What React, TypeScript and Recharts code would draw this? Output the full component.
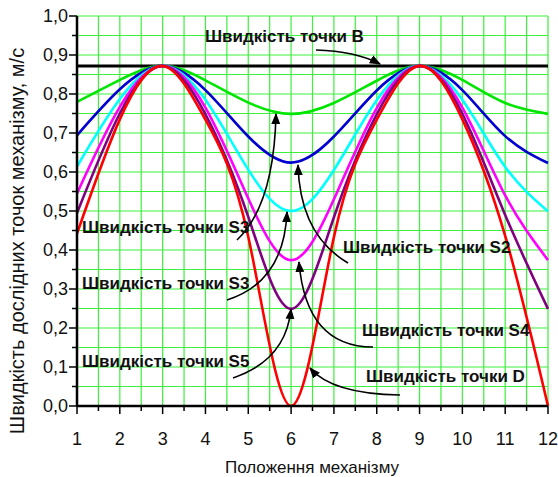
import { LineChart, Line, XAxis, YAxis, CartesianGrid } from "recharts";

// положення механізму 1..12
const positions = [1, 2, 3, 4, 5, 6, 7, 8, 9, 10, 11, 12];

// швидкості, м/с
const vB = [0.872, 0.872, 0.872, 0.872, 0.872, 0.872, 0.872, 0.872, 0.872, 0.872, 0.872, 0.872];
const vS3a = [0.78, 0.836, 0.872, 0.835, 0.778, 0.749, 0.777, 0.834, 0.872, 0.836, 0.777, 0.749];
const vS2 = [0.694, 0.812, 0.872, 0.81, 0.691, 0.624, 0.691, 0.809, 0.872, 0.81, 0.692, 0.623];
const vS3b = [0.614, 0.787, 0.872, 0.785, 0.606, 0.5, 0.605, 0.784, 0.872, 0.785, 0.613, 0.499];
const vS4 = [0.545, 0.767, 0.872, 0.765, 0.532, 0.374, 0.53, 0.764, 0.872, 0.765, 0.54, 0.374];
const vS5 = [0.495, 0.75, 0.872, 0.748, 0.485, 0.249, 0.484, 0.748, 0.872, 0.749, 0.49, 0.249];
const vD = [0.442, 0.735, 0.872, 0.734, 0.434, 0, 0.433, 0.734, 0.872, 0.735, 0.436, 0];

const xTicks = [1, 1.5, 2, 2.5, 3, 3.5, 4, 4.5, 5, 5.5, 6, 6.5, 7, 7.5, 8, 8.5, 9, 9.5, 10, 10.5, 11, 11.5, 12];
const yTicks = [0, 0.05, 0.1, 0.15, 0.2, 0.25, 0.3, 0.35, 0.4, 0.45, 0.5, 0.55, 0.6, 0.65, 0.7, 0.75, 0.8, 0.85, 0.9, 0.95, 1];

const data = positions.map((p, i) => ({
  pos: p,
  B: vB[i],
  S3a: vS3a[i],
  S2: vS2[i],
  S3b: vS3b[i],
  S4: vS4[i],
  S5: vS5[i],
  D: vD[i],
}));

const W = 558;
const H = 477;
const LEFT = 77;
const BOTTOM = 406;
const FONT = "'Liberation Sans', Arial, sans-serif";

const isMajor = (v: number) => Math.abs(v * 10 - Math.round(v * 10)) < 1e-6;

function YTick(props: any) {
  const { y, payload } = props;
  const v = payload.value;
  const major = isMajor(v);
  return (
    <g>
      <line x1={LEFT - (major ? 8 : 5)} x2={LEFT} y1={y} y2={y} stroke="#000" strokeWidth={1.5} />
      {major && (
        <text x={LEFT - 9} y={y} textAnchor="end" dominantBaseline="central" fontSize={18} fontFamily={FONT} fill="#111">
          {v.toFixed(1).replace(".", ",")}
        </text>
      )}
    </g>
  );
}

function XTick(props: any) {
  const { x, payload } = props;
  const v = payload.value;
  const major = Number.isInteger(v);
  return (
    <g>
      <line x1={x} x2={x} y1={BOTTOM} y2={BOTTOM + (major ? 8 : 5)} stroke="#000" strokeWidth={1.5} />
      {major && (
        <text x={x} y={BOTTOM + 39} textAnchor="middle" fontSize={18} fontFamily={FONT} fill="#111">
          {v}
        </text>
      )}
    </g>
  );
}

const labelStyle = { fontSize: 17, fontWeight: 700, fontFamily: FONT, fill: "#111" };

function Notes() {
  return (
    <svg width={W} height={H} style={{ position: "absolute", left: 0, top: 0, pointerEvents: "none" }}>
      <defs>
        <marker id="ah" viewBox="0 0 10 10" refX="9" refY="5" markerWidth="7" markerHeight="7" orient="auto">
          <path d="M0,1 L10,5 L0,9 z" fill="#000" />
        </marker>
      </defs>
      <g fill="none" stroke="#000" strokeWidth={1.6} markerEnd="url(#ah)">
        <path d="M316 50 Q355 51 380 64" />
        <path d="M237 240 Q274 205 276 114" />
        <path d="M227 300 Q284 282 287 212" />
        <path d="M233 378 Q286 360 291 309" />
        <path d="M348 263 Q300 235 298 165" />
        <path d="M373 347 Q306 347 299 262" />
        <path d="M400 395 Q332 394 310 368" />
      </g>
      <text x={205} y={42} {...labelStyle}>Швидкість точки B</text>
      <text x={82} y={233} {...labelStyle}>Швидкість точки S3</text>
      <text x={82} y={289} {...labelStyle}>Швидкість точки S3</text>
      <text x={82} y={367} {...labelStyle}>Швидкість точки S5</text>
      <text x={343} y={253} {...labelStyle}>Швидкість точки S2</text>
      <text x={362} y={336} {...labelStyle}>Швидкість точки S4</text>
      <text x={366} y={382} {...labelStyle}>Швидкість точки D</text>
      <text
        x={24}
        y={241}
        transform="rotate(-90 24 241)"
        textAnchor="middle"
        fontSize={20}
        fontFamily={FONT}
        fill="#111"
      >
        Швидкість дослідних точок механізму, м/с
      </text>
      <text x={312} y={473} textAnchor="middle" fontSize={17} fontFamily={FONT} fill="#111">
        Положення механізму
      </text>
    </svg>
  );
}

export default function App() {
  return (
    <div style={{ position: "absolute", left: 0, top: 0, width: W, height: H, background: "#fff" }}>
      <LineChart width={W} height={H} data={data} margin={{ top: 16, right: 10, bottom: 41, left: 17 }}>
        <CartesianGrid stroke="#3cf03c" strokeWidth={1.2} />
        <XAxis
          dataKey="pos"
          type="number"
          domain={[1, 12]}
          ticks={xTicks}
          interval={0}
          tick={<XTick />}
          tickLine={false}
          axisLine={{ stroke: "#000", strokeWidth: 2.5 }}
          height={30}
        />
        <YAxis
          type="number"
          domain={[0, 1]}
          ticks={yTicks}
          interval={0}
          tick={<YTick />}
          tickLine={false}
          axisLine={{ stroke: "#000", strokeWidth: 2.5 }}
          width={60}
        />
        <Line dataKey="B" type="linear" stroke="#000" strokeWidth={3} dot={false} isAnimationActive={false} />
        <Line dataKey="S3a" type="natural" stroke="#00e600" strokeWidth={2.6} dot={false} isAnimationActive={false} />
        <Line dataKey="S2" type="natural" stroke="#0000d0" strokeWidth={2.6} dot={false} isAnimationActive={false} />
        <Line dataKey="S3b" type="natural" stroke="#00ffff" strokeWidth={2.6} dot={false} isAnimationActive={false} />
        <Line dataKey="S4" type="natural" stroke="#ff00ff" strokeWidth={2.6} dot={false} isAnimationActive={false} />
        <Line dataKey="S5" type="natural" stroke="#800080" strokeWidth={2.6} dot={false} isAnimationActive={false} />
        <Line dataKey="D" type="natural" stroke="#ff0000" strokeWidth={2.6} dot={false} isAnimationActive={false} />
      </LineChart>
      <Notes />
    </div>
  );
}
